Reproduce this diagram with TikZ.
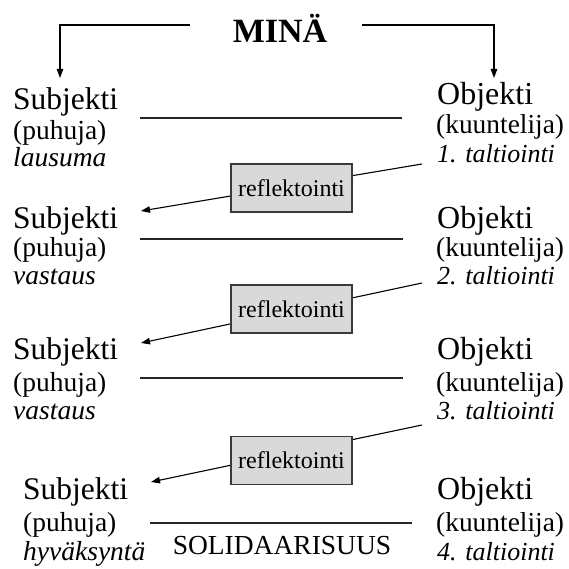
\documentclass[tikz,border=0pt]{standalone}
\usepackage{fontspec}
\setmainfont{Liberation Serif}
\usetikzlibrary{arrows.meta}
\definecolor{boxfill}{HTML}{D9D9D9}
\definecolor{boxline}{HTML}{3A3A3A}
\definecolor{ink}{HTML}{000000}
\newcommand\stx[3]{\scalebox{#1}[1]{\fontsize{#2}{#2}\selectfont #3}}
\tikzset{
  lbl/.style={inner sep=0pt, anchor=base west, text=ink},
  sep/.style={draw=ink!85, line width=1.3pt},
  arr/.style={draw=ink, line width=1.1pt, -{Triangle[length=9pt,width=6.5pt]}},
  reflbox/.style={draw=boxline, fill=boxfill, line width=1.1pt, minimum width=121pt, minimum height=48pt, inner sep=0pt, text=ink},
}
\begin{document}
\begin{tikzpicture}[x=1pt,y=-1pt]
\useasboundingbox (0,0) rectangle (568,569);
% top
\node[inner sep=0pt, anchor=base, text=ink] (mina) at (280,43) {\stx{1}{34}{\bfseries MINÄ}};
\coordinate (ml) at (190,25); \coordinate (mlc) at (60,25); \coordinate (mld) at (60,78);
\coordinate (mr) at (362,25); \coordinate (mrc) at (494,25); \coordinate (mrd) at (494,78);
\draw[arr] (ml) -- (mlc) -- (mld);
\draw[arr] (mr) -- (mrc) -- (mrd);
% row 1
\node[lbl] (s1) at (13,110) {\stx{1}{31.5}{Subjekti}};
\node[lbl] (p1) at (13,140) {\stx{1}{27.5}{(puhuja)}};
\node[lbl] (l1) at (13,167) {\stx{1}{27.5}{\itshape lausuma}};
\node[lbl] (o1) at (437,105) {\stx{1}{32}{Objekti}};
\node[lbl] (k1) at (436,134) {\stx{1}{27.4}{(kuuntelija)}};
\node[lbl] (t1) at (437,163) {\stx{1}{26}{\itshape 1. taltiointi}};
\draw[sep] (140,118) coordinate (h1a) -- (402,118) coordinate (h1b);
% row 2
\node[lbl] (s2) at (13,228) {\stx{1}{31.5}{Subjekti}};
\node[lbl] (p2) at (13,256) {\stx{1}{27.5}{(puhuja)}};
\node[lbl] (l2) at (13,284) {\stx{1}{27.5}{\itshape vastaus}};
\node[lbl] (o2) at (437,228) {\stx{1}{32}{Objekti}};
\node[lbl] (k2) at (436,256) {\stx{1}{27.4}{(kuuntelija)}};
\node[lbl] (t2) at (437,284) {\stx{1}{26}{\itshape 2. taltiointi}};
\draw[sep] (140,239) coordinate (h2a) -- (403,239) coordinate (h2b);
% row 3
\node[lbl] (s3) at (13,359) {\stx{1}{31.5}{Subjekti}};
\node[lbl] (p3) at (13,391) {\stx{1}{27.5}{(puhuja)}};
\node[lbl] (l3) at (13,419) {\stx{1}{27.5}{\itshape vastaus}};
\node[lbl] (o3) at (437,359) {\stx{1}{32}{Objekti}};
\node[lbl] (k3) at (436,391) {\stx{1}{27.4}{(kuuntelija)}};
\node[lbl] (t3) at (437,419) {\stx{1}{26}{\itshape 3. taltiointi}};
\draw[sep] (140,378) coordinate (h3a) -- (403,378) coordinate (h3b);
% row 4
\node[lbl] (s4) at (23,499) {\stx{1}{31.5}{Subjekti}};
\node[lbl] (p4) at (23,531) {\stx{1}{27.5}{(puhuja)}};
\node[lbl] (l4) at (23,560) {\stx{1}{27.5}{\itshape hyväksyntä}};
\node[lbl] (o4) at (437,499) {\stx{1}{32}{Objekti}};
\node[lbl] (k4) at (436,531) {\stx{1}{27.4}{(kuuntelija)}};
\node[lbl] (t4) at (437,560) {\stx{1}{26}{\itshape 4. taltiointi}};
\draw[sep] (150,523) coordinate (h4a) -- (412,523) coordinate (h4b);
\node[inner sep=0pt, anchor=base, text=ink] (sol) at (282,554) {\stx{1}{27.5}{SOLIDAARISUUS}};
% reflection arrows
\coordinate (a1) at (422,164); \coordinate (b1) at (141,211);
\coordinate (a2) at (422,283); \coordinate (b2) at (141,343);
\coordinate (a3) at (422,425); \coordinate (b3) at (151,482);
\draw[arr] (a1) -- (b1);
\draw[arr] (a2) -- (b2);
\draw[arr] (a3) -- (b3);
\node[reflbox] (r1) at (291.5,188) {\stx{1}{24}{reflektointi}};
\node[reflbox] (r2) at (291.5,309) {\stx{1}{24}{reflektointi}};
\node[reflbox] (r3) at (291.5,460.5) {\stx{1}{24}{reflektointi}};
\end{tikzpicture}
\end{document}
